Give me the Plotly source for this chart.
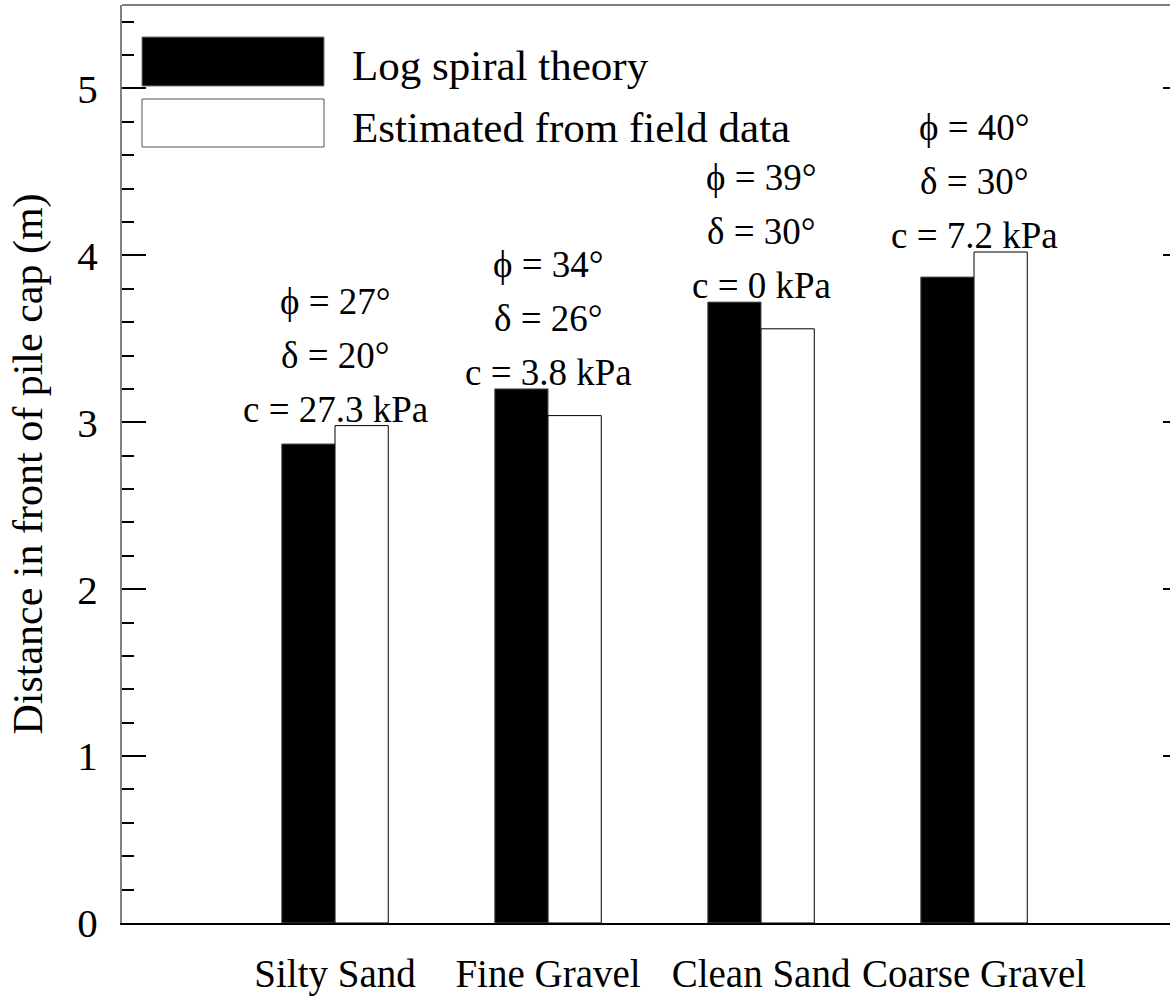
import plotly.graph_objects as go

# Soil types and passive-zone distances (m)
soils = ["Silty Sand", "Fine Gravel", "Clean Sand", "Coarse Gravel"]
log_spiral = [2.87, 3.20, 3.72, 3.87]
field_est = [2.98, 3.04, 3.56, 4.02]
series_names = ["Log spiral theory", "Estimated from field data"]

# Soil parameters shown above each pair of bars
phi = ["27", "34", "39", "40"]
delta = ["20", "26", "30", "30"]
cohesion = ["27.3", "3.8", "0", "7.2"]

y_ticks = [0, 1, 2, 3, 4, 5]

FONT = "Liberation Serif"
xpos = list(range(len(soils)))

fig = go.Figure()
fig.add_trace(go.Bar(
    x=xpos, y=log_spiral, name=series_names[0], width=0.25, offset=-0.25,
    marker=dict(color="black", line=dict(color="#555555", width=1)),
    showlegend=False,
))
fig.add_trace(go.Bar(
    x=xpos, y=field_est, name=series_names[1], width=0.25, offset=0.0,
    marker=dict(color="white", line=dict(color="black", width=1)),
    showlegend=False,
))

# right-hand major ticks
fig.add_trace(go.Scatter(x=[None], y=[None], yaxis="y2", showlegend=False))

# parameter labels, stacked above the taller bar of each pair
for i in range(len(soils)):
    top = max(log_spiral[i], field_est[i])
    lines = [f"\u03d5 = {phi[i]}\u00b0", f"\u03b4 = {delta[i]}\u00b0", f"c = {cohesion[i]} kPa"]
    for k, txt in enumerate(reversed(lines)):
        fig.add_annotation(
            x=i, y=top, xref="x", yref="y", text=txt, showarrow=False,
            xanchor="center", yanchor="bottom", yshift=-6 + 54 * k,
            font=dict(family=FONT, size=37, color="black"),
        )

# legend swatches and labels
fig.add_shape(type="rect", xref="paper", yref="paper",
              x0=(142 - 122) / 1048, x1=(324 - 122) / 1048,
              y0=(923 - 86) / 918, y1=(923 - 37) / 918,
              fillcolor="black", line=dict(color="#777777", width=1))
fig.add_shape(type="rect", xref="paper", yref="paper",
              x0=(142 - 122) / 1048, x1=(324 - 122) / 1048,
              y0=(923 - 147) / 918, y1=(923 - 99) / 918,
              fillcolor="white", line=dict(color="#555555", width=1))
for name, yc in zip(series_names, [65, 127]):
    fig.add_annotation(
        x=(350 - 122) / 1048, y=(923 - yc) / 918, xref="paper", yref="paper",
        text=name, showarrow=False, xanchor="left", yanchor="middle",
        font=dict(family=FONT, size=43, color="black"),
    )

# top frame line
fig.add_shape(type="line", xref="paper", yref="paper", x0=0, x1=1, y0=1, y1=1,
              line=dict(color="#808080", width=2))

fig.update_layout(
    width=1170, height=997,
    margin=dict(l=122, r=0, t=5, b=74),
    paper_bgcolor="white", plot_bgcolor="white",
    barmode="overlay",
    font=dict(family=FONT, color="black"),
    xaxis=dict(
        range=[-1.0, 3.92], tickmode="array", tickvals=xpos, ticktext=soils,
        showline=True, linecolor="black", linewidth=1.5,
        ticks="", showgrid=False, zeroline=False,
        ticklabelstandoff=15,
        tickfont=dict(family=FONT, size=39, color="black"),
    ),
    yaxis=dict(
        range=[0, 5.5], tickmode="array", tickvals=y_ticks,
        showline=True, linecolor="#808080", linewidth=2,
        ticks="inside", ticklen=24, tickcolor="black", tickwidth=1.5,
        minor=dict(dtick=0.2, ticks="inside", ticklen=12, tickcolor="black", tickwidth=1.5),
        showgrid=False, zeroline=False,
        ticklabelstandoff=14,
        tickfont=dict(family=FONT, size=41, color="black"),
        title=dict(text="Distance in front of pile cap (m)", standoff=22,
                   font=dict(family=FONT, size=42, color="black")),
    ),
    yaxis2=dict(
        range=[0, 5.5], overlaying="y", side="right", tickmode="array", tickvals=y_ticks,
        showline=False, ticks="inside", ticklen=7, tickcolor="black", tickwidth=1.5,
        showticklabels=False, showgrid=False, zeroline=False,
    ),
)

fig.write_html("out.html")
